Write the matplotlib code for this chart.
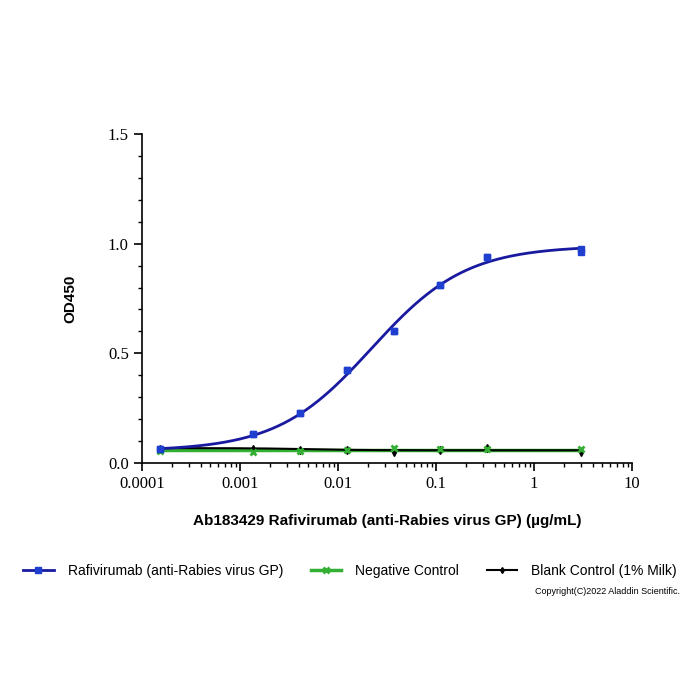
import numpy as np
import matplotlib
matplotlib.use("Agg")
import matplotlib.pyplot as plt
from matplotlib.ticker import LogLocator, FixedLocator, MultipleLocator, NullFormatter, FixedFormatter
from matplotlib.lines import Line2D

# concentrations (ug/mL)
conc = [0.000152, 0.00137, 0.00412, 0.0123, 0.037, 0.111, 0.333, 3.0]
rafi_od = [0.065, 0.13, 0.23, 0.425, 0.60, 0.81, 0.94, 0.96]
rafi_od_rep = [0.065, 0.13, 0.23, 0.425, 0.60, 0.81, 0.94, 0.975]
neg_od = [0.055, 0.052, 0.053, 0.060, 0.070, 0.065, 0.065, 0.065]
blank_od = [0.066, 0.066, 0.060, 0.058, 0.052, 0.058, 0.068, 0.052]

# 4PL fit parameters (value at low conc, value at high conc, EC50, hill)
rafi_fit = [0.055, 0.99, 0.022, 0.9]
neg_fit = [0.058, 0.058, 0.01, 1.0]
blank_fit = [0.068, 0.058, 0.005, 1.5]

xticks = [0.0001, 0.001, 0.01, 0.1, 1, 10]
xticklabels = ["0.0001", "0.001", "0.01", "0.1", "1", "10"]
yticks = [0.0, 0.5, 1.0, 1.5]
yticklabels = ["0.0", "0.5", "1.0", "1.5"]

labels = ["Rafivirumab (anti-Rabies virus GP)", "Negative Control", "Blank Control (1% Milk)"]


def fourpl(x, p):
    b, t, c, h = p
    return b + (t - b) / (1 + (c / x) ** h)


fig = plt.figure(figsize=(7, 7), dpi=100)
ax = fig.add_axes([142 / 700, (700 - 463) / 700, 490 / 700, 329 / 700])

xs = np.logspace(np.log10(conc[0]), np.log10(conc[-1]), 300)

blue_line = "#1a1aa0"
blue_mk = "#1f3fd0"
green = "#33b033"

ax.plot(xs, fourpl(xs, blank_fit), color="black", lw=1.5, zorder=3)
ax.plot(xs, fourpl(xs, neg_fit), color=green, lw=2.5, zorder=2)
ax.plot(conc, blank_od, linestyle="none", marker="d", ms=4, color="black", zorder=4)
ax.plot(conc, neg_od, linestyle="none", marker="x", ms=5, mew=2, color=green, zorder=4)
ax.plot(xs, fourpl(xs, rafi_fit), color=blue_line, lw=2, zorder=5)
ax.plot(conc, rafi_od, linestyle="none", marker="s", ms=5, color=blue_mk, zorder=6)
ax.plot(conc, rafi_od_rep, linestyle="none", marker="s", ms=5, color=blue_mk, zorder=6)

ax.set_xscale("log")
ax.set_xlim(0.0001, 10)
ax.set_ylim(0, 1.5)

ax.xaxis.set_major_locator(FixedLocator(xticks))
ax.xaxis.set_major_formatter(FixedFormatter(xticklabels))
ax.xaxis.set_minor_locator(LogLocator(base=10, subs=np.arange(2, 10)))
ax.xaxis.set_minor_formatter(NullFormatter())
ax.yaxis.set_major_locator(FixedLocator(yticks))
ax.yaxis.set_major_formatter(FixedFormatter(yticklabels))
ax.yaxis.set_minor_locator(MultipleLocator(0.1))

for s in ["top", "right"]:
    ax.spines[s].set_visible(False)
for s in ["left", "bottom"]:
    ax.spines[s].set_linewidth(1.2)

ax.tick_params(which="major", direction="out", length=6, width=1.2)
ax.tick_params(which="minor", direction="out", length=3, width=1)
for lab in ax.get_xticklabels() + ax.get_yticklabels():
    lab.set_fontfamily("Liberation Serif")
    lab.set_fontsize(12)

ax.set_ylabel("OD450", fontfamily="Liberation Sans", fontweight="bold", fontsize=11, labelpad=22)
ax.set_xlabel("Ab183429 Rafivirumab (anti-Rabies virus GP) (\u00b5g/mL)",
              fontfamily="Liberation Sans", fontweight="bold", fontsize=11, labelpad=16)

handles = [
    Line2D([], [], color=blue_line, lw=2, marker="s", ms=4, markerfacecolor=blue_mk, markeredgecolor=blue_mk),
    Line2D([], [], color=green, lw=2.5, marker="x", ms=4, mew=2),
    Line2D([], [], color="black", lw=1.5, marker="d", ms=3),
]
leg = fig.legend(handles, labels, loc="center", bbox_to_anchor=(0.5, (700 - 571) / 700), ncol=3,
                 frameon=False, prop={"family": "Liberation Sans", "size": 10},
                 handlelength=2.2, columnspacing=2.0, handletextpad=1.0)

fig.text(680 / 700, (700 - 592) / 700, "Copyright(C)2022 Aladdin Scientific.",
         ha="right", va="center", fontfamily="Liberation Sans", fontsize=6.5)

fig.savefig("out.png", dpi=100, facecolor="white")
